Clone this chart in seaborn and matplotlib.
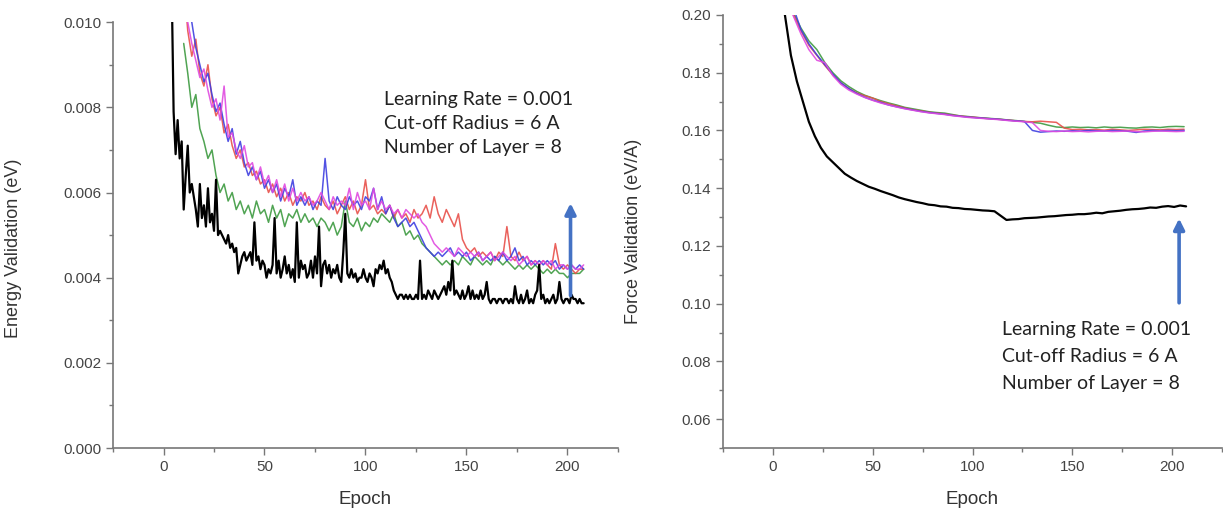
import numpy as np
import pandas as pd
import matplotlib
matplotlib.use("Agg")
import matplotlib.pyplot as plt
from matplotlib.ticker import MultipleLocator, FormatStrFormatter
import seaborn as sns

# --- energy validation (left panel) ---
black_e_epoch = np.arange(4, 209)
black_energy = [
    0.0110, 0.0079, 0.0069, 0.0077, 0.0068, 0.0072, 0.0056, 0.0064, 0.0071, 0.0060,
    0.0062, 0.0059, 0.0056, 0.0052, 0.0062, 0.0054, 0.0057, 0.0052, 0.0061, 0.0053,
    0.0055, 0.0051, 0.0063, 0.0050, 0.0051, 0.0050, 0.0049, 0.0048, 0.0050, 0.0047,
    0.0048, 0.0046, 0.0047, 0.0041, 0.0043, 0.0045, 0.0046, 0.0044, 0.0045, 0.0046,
    0.0043, 0.0053, 0.0044, 0.0045, 0.0042, 0.0044, 0.0043, 0.0040, 0.0042, 0.0041,
    0.0043, 0.0054, 0.0041, 0.0044, 0.0040, 0.0042, 0.0045, 0.0041, 0.0043, 0.0040,
    0.0042, 0.0039, 0.0053, 0.0040, 0.0044, 0.0042, 0.0043, 0.0040, 0.0041, 0.0044,
    0.0040, 0.0045, 0.0041, 0.0052, 0.0038, 0.0043, 0.0044, 0.0041, 0.0043, 0.0040,
    0.0042, 0.0041, 0.0043, 0.0040, 0.0039, 0.0046, 0.0055, 0.0041, 0.0040, 0.0042,
    0.0040, 0.0041, 0.0039, 0.0040, 0.0040, 0.0042, 0.0040, 0.0039, 0.0041, 0.0040,
    0.0038, 0.0042, 0.0041, 0.0043, 0.0042, 0.0044, 0.0041, 0.0042, 0.0040, 0.0039,
    0.0037, 0.0036, 0.0035, 0.0036, 0.0036, 0.0035, 0.0036, 0.0035, 0.0036, 0.0035,
    0.0035, 0.0036, 0.0035, 0.0044, 0.0035, 0.0036, 0.0035, 0.0037, 0.0036, 0.0035,
    0.0037, 0.0036, 0.0035, 0.0036, 0.0037, 0.0038, 0.0036, 0.0039, 0.0037, 0.0044,
    0.0036, 0.0037, 0.0036, 0.0035, 0.0037, 0.0035, 0.0036, 0.0038, 0.0035, 0.0037,
    0.0035, 0.0036, 0.0035, 0.0037, 0.0035, 0.0036, 0.0039, 0.0035, 0.0034, 0.0035,
    0.0035, 0.0034, 0.0035, 0.0035, 0.0034, 0.0035, 0.0035, 0.0034, 0.0035, 0.0034,
    0.0038, 0.0035, 0.0034, 0.0036, 0.0034, 0.0035, 0.0037, 0.0034, 0.0035, 0.0034,
    0.0036, 0.0037, 0.0043, 0.0035, 0.0036, 0.0034, 0.0035, 0.0034, 0.0035, 0.0036,
    0.0034, 0.0035, 0.0039, 0.0035, 0.0034, 0.0035, 0.0035, 0.0034, 0.0036, 0.0035,
    0.0035, 0.0034, 0.0035, 0.0034, 0.0034,
]

color_e_epoch = np.arange(10, 209, 2)
red_energy = [
    0.0110, 0.0098, 0.0092, 0.0096, 0.0088, 0.0085, 0.0090, 0.0082, 0.0078, 0.0080,
    0.0074, 0.0076, 0.0071, 0.0068, 0.0070, 0.0066, 0.0067, 0.0064, 0.0065, 0.0062,
    0.0063, 0.0060, 0.0062, 0.0059, 0.0061, 0.0058, 0.0060, 0.0057, 0.0059, 0.0058,
    0.0060, 0.0057, 0.0058, 0.0056, 0.0059, 0.0057, 0.0056, 0.0058, 0.0055, 0.0057,
    0.0059, 0.0056, 0.0058, 0.0055, 0.0057, 0.0063, 0.0056, 0.0057, 0.0055, 0.0056,
    0.0055, 0.0057, 0.0054, 0.0056, 0.0054, 0.0055, 0.0053, 0.0056, 0.0054, 0.0055,
    0.0057, 0.0054, 0.0059, 0.0055, 0.0053, 0.0056, 0.0054, 0.0052, 0.0055, 0.0049,
    0.0047, 0.0046, 0.0047, 0.0045, 0.0046, 0.0045, 0.0046, 0.0044, 0.0046, 0.0045,
    0.0052, 0.0045, 0.0044, 0.0046, 0.0044, 0.0045, 0.0043, 0.0044, 0.0043, 0.0044,
    0.0043, 0.0042, 0.0048, 0.0043, 0.0042, 0.0043, 0.0042, 0.0041, 0.0042, 0.0042,
]
magenta_energy = [
    0.0112, 0.0100, 0.0095, 0.0091, 0.0087, 0.0089, 0.0084, 0.0080, 0.0082, 0.0077,
    0.0085, 0.0073, 0.0074, 0.0070, 0.0068, 0.0071, 0.0066, 0.0067, 0.0063, 0.0066,
    0.0062, 0.0064, 0.0060, 0.0063, 0.0059, 0.0062, 0.0058, 0.0061, 0.0058, 0.0060,
    0.0058, 0.0059, 0.0057, 0.0058, 0.0060, 0.0058, 0.0056, 0.0059, 0.0057, 0.0058,
    0.0057, 0.0061, 0.0056, 0.0060, 0.0057, 0.0058, 0.0056, 0.0061, 0.0056, 0.0058,
    0.0056, 0.0057, 0.0055, 0.0056, 0.0054, 0.0056, 0.0055, 0.0054, 0.0055, 0.0053,
    0.0052, 0.0050, 0.0048, 0.0047, 0.0046, 0.0047, 0.0046, 0.0045, 0.0047, 0.0046,
    0.0045, 0.0046, 0.0045, 0.0046, 0.0044, 0.0045, 0.0046, 0.0044, 0.0045, 0.0046,
    0.0045, 0.0044, 0.0045, 0.0043, 0.0044, 0.0045, 0.0043, 0.0044, 0.0043, 0.0044,
    0.0043, 0.0044, 0.0042, 0.0043, 0.0043, 0.0042, 0.0043, 0.0042, 0.0042, 0.0043,
]
blue_energy = [
    0.0115, 0.0108, 0.0100, 0.0094, 0.0090, 0.0086, 0.0088, 0.0083, 0.0079, 0.0081,
    0.0076, 0.0072, 0.0075, 0.0069, 0.0072, 0.0067, 0.0064, 0.0066, 0.0063, 0.0065,
    0.0061, 0.0063, 0.0060, 0.0062, 0.0058, 0.0061, 0.0059, 0.0063, 0.0057, 0.0059,
    0.0057, 0.0059, 0.0056, 0.0058, 0.0057, 0.0068, 0.0058, 0.0056, 0.0059, 0.0057,
    0.0056, 0.0059, 0.0057, 0.0058, 0.0056, 0.0059, 0.0058, 0.0061, 0.0056, 0.0059,
    0.0055, 0.0057, 0.0054, 0.0052, 0.0053, 0.0054, 0.0052, 0.0053, 0.0051, 0.0049,
    0.0047, 0.0046, 0.0045, 0.0046, 0.0045, 0.0046, 0.0047, 0.0045, 0.0046, 0.0045,
    0.0046, 0.0044, 0.0045, 0.0046, 0.0044, 0.0045, 0.0044, 0.0045, 0.0044, 0.0046,
    0.0044, 0.0045, 0.0047, 0.0044, 0.0045, 0.0043, 0.0044, 0.0043, 0.0044, 0.0043,
    0.0044, 0.0043, 0.0044, 0.0042, 0.0043, 0.0042, 0.0043, 0.0042, 0.0043, 0.0042,
]
green_energy = [
    0.0095, 0.0088, 0.0080, 0.0083, 0.0075, 0.0072, 0.0068, 0.0070, 0.0064, 0.0060,
    0.0062, 0.0058, 0.0060, 0.0056, 0.0058, 0.0055, 0.0057, 0.0054, 0.0058, 0.0055,
    0.0056, 0.0053, 0.0057, 0.0054, 0.0056, 0.0052, 0.0055, 0.0054, 0.0056, 0.0053,
    0.0055, 0.0053, 0.0054, 0.0052, 0.0054, 0.0053, 0.0051, 0.0053, 0.0050, 0.0052,
    0.0058, 0.0053, 0.0052, 0.0054, 0.0051, 0.0053, 0.0052, 0.0054, 0.0053, 0.0055,
    0.0054, 0.0053, 0.0055, 0.0052, 0.0053, 0.0050, 0.0051, 0.0049, 0.0050, 0.0048,
    0.0047, 0.0046, 0.0045, 0.0044, 0.0043, 0.0044, 0.0043, 0.0044, 0.0043, 0.0045,
    0.0044, 0.0043, 0.0045, 0.0044, 0.0043, 0.0044, 0.0043, 0.0045, 0.0044, 0.0043,
    0.0044, 0.0043, 0.0042, 0.0043, 0.0042, 0.0043, 0.0042, 0.0043, 0.0042, 0.0041,
    0.0042, 0.0041, 0.0042, 0.0041, 0.0041, 0.0040, 0.0041, 0.0041, 0.0041, 0.0042,
]

# --- force validation (right panel) ---
black_f_epoch = np.arange(6, 208, 3)
black_force = [
    0.2000, 0.1860, 0.1770, 0.1700, 0.1630, 0.1580, 0.1540, 0.1510, 0.1490, 0.1470,
    0.1450, 0.1437, 0.1425, 0.1415, 0.1405, 0.1398, 0.1390, 0.1383, 0.1376, 0.1368,
    0.1362, 0.1357, 0.1352, 0.1348, 0.1343, 0.1341, 0.1337, 0.1336, 0.1332, 0.1331,
    0.1328, 0.1327, 0.1325, 0.1323, 0.1322, 0.1320, 0.1305, 0.1290, 0.1292, 0.1293,
    0.1296, 0.1297, 0.1298, 0.1300, 0.1302, 0.1303, 0.1305, 0.1307, 0.1308, 0.1310,
    0.1310, 0.1312, 0.1315, 0.1313, 0.1318, 0.1320, 0.1322, 0.1325, 0.1327, 0.1328,
    0.1330, 0.1333, 0.1332, 0.1336, 0.1338, 0.1335, 0.1340, 0.1337,
]

color_f_epoch = np.arange(10, 207, 4)
green_force = [
    0.2010, 0.1955, 0.1910, 0.1880, 0.1835, 0.1800, 0.1772, 0.1752, 0.1735, 0.1722,
    0.1712, 0.1703, 0.1695, 0.1688, 0.1680, 0.1675, 0.1670, 0.1665, 0.1662, 0.1660,
    0.1655, 0.1650, 0.1648, 0.1645, 0.1643, 0.1641, 0.1639, 0.1636, 0.1634, 0.1631,
    0.1628, 0.1625, 0.1618, 0.1612, 0.1610, 0.1612, 0.1610, 0.1611, 0.1609, 0.1612,
    0.1610, 0.1611, 0.1609, 0.1608, 0.1611, 0.1612, 0.1610, 0.1613, 0.1614, 0.1613,
]
red_force = [
    0.2005, 0.1945, 0.1895, 0.1860, 0.1825, 0.1792, 0.1765, 0.1745, 0.1730, 0.1720,
    0.1712, 0.1700, 0.1692, 0.1685, 0.1678, 0.1672, 0.1668, 0.1663, 0.1660, 0.1657,
    0.1653, 0.1650, 0.1647, 0.1645, 0.1642, 0.1640, 0.1638, 0.1636, 0.1633, 0.1631,
    0.1630, 0.1632, 0.1630, 0.1628, 0.1608, 0.1603, 0.1604, 0.1602, 0.1603, 0.1601,
    0.1604, 0.1602, 0.1600, 0.1602, 0.1604, 0.1603, 0.1602, 0.1604, 0.1603, 0.1604,
]
blue_force = [
    0.2030, 0.1950, 0.1900, 0.1862, 0.1828, 0.1795, 0.1765, 0.1745, 0.1728, 0.1715,
    0.1705, 0.1697, 0.1688, 0.1682, 0.1676, 0.1671, 0.1666, 0.1662, 0.1659, 0.1656,
    0.1652, 0.1649, 0.1646, 0.1644, 0.1642, 0.1640, 0.1638, 0.1635, 0.1633, 0.1631,
    0.1600, 0.1594, 0.1596, 0.1598, 0.1597, 0.1599, 0.1598, 0.1600, 0.1599, 0.1598,
    0.1600, 0.1599, 0.1597, 0.1593, 0.1598, 0.1600, 0.1599, 0.1600, 0.1599, 0.1600,
]
magenta_force = [
    0.2000, 0.1935, 0.1880, 0.1843, 0.1835, 0.1790, 0.1760, 0.1740, 0.1726, 0.1714,
    0.1704, 0.1695, 0.1688, 0.1681, 0.1675, 0.1670, 0.1665, 0.1661, 0.1658, 0.1655,
    0.1651, 0.1648, 0.1645, 0.1643, 0.1641, 0.1639, 0.1637, 0.1634, 0.1632, 0.1630,
    0.1627, 0.1600, 0.1597, 0.1596, 0.1598, 0.1596, 0.1597, 0.1595, 0.1597, 0.1598,
    0.1596, 0.1597, 0.1598, 0.1596, 0.1595, 0.1597, 0.1598, 0.1597, 0.1596, 0.1597,
]

info_lines = ["Learning Rate = 0.001", "Cut-off Radius = 6 A", "Number of Layer = 8"]

c_red, c_green, c_blue, c_mag = "#e8504a", "#3d9a40", "#3f3fe0", "#e04ae0"

sns.set_style("ticks")
plt.rcParams['font.family'] = ['Liberation Sans', 'DejaVu Sans']

fig = plt.figure(figsize=(12.23, 5.15), dpi=100)
ax1 = fig.add_axes([0.0924, 0.130, 0.4129, 0.827])
ax2 = fig.add_axes([0.5912, 0.130, 0.408, 0.841])

# left: energy
for vals, col in [(green_energy, c_green), (red_energy, c_red),
                  (blue_energy, c_blue), (magenta_energy, c_mag)]:
    sns.lineplot(x=color_e_epoch, y=vals, color=col, lw=1.1, alpha=0.9, ax=ax1)
sns.lineplot(x=black_e_epoch, y=black_energy, color="black", lw=1.6, ax=ax1)

ax1.set_xlim(-25, 225)
ax1.set_ylim(0, 0.010)
ax1.yaxis.set_major_locator(MultipleLocator(0.002))
ax1.yaxis.set_minor_locator(MultipleLocator(0.001))
ax1.yaxis.set_major_formatter(FormatStrFormatter('%.3f'))
ax1.set_ylabel("Energy Validation (eV)")
ax1.yaxis.set_label_coords(-0.18, 0.47)

ax1.text(109, 0.00838, "\n".join(info_lines), family=['Lato', 'DejaVu Sans'],
         fontsize=14, color="#222222", va='top', linespacing=1.5)
ax1.annotate('', xy=(201.5, 0.00575), xytext=(201.5, 0.00358),
             arrowprops=dict(arrowstyle='-|>', color='#4472c4', lw=2.6,
                             mutation_scale=16, shrinkA=0, shrinkB=0))

# right: force
for vals, col in [(green_force, c_green), (red_force, c_red),
                  (blue_force, c_blue), (magenta_force, c_mag)]:
    sns.lineplot(x=color_f_epoch, y=vals, color=col, lw=1.1, alpha=0.9, ax=ax2)
sns.lineplot(x=black_f_epoch, y=black_force, color="black", lw=1.6, ax=ax2)

ax2.set_xlim(-25, 225)
ax2.set_ylim(0.05, 0.20)
ax2.set_yticks(np.arange(0.06, 0.201, 0.02))
ax2.yaxis.set_minor_locator(MultipleLocator(0.01))
ax2.yaxis.set_major_formatter(FormatStrFormatter('%.2f'))
ax2.set_ylabel("Force Validation (eV/A)")
ax2.yaxis.set_label_coords(-0.162, 0.50)

ax2.text(115, 0.0940, "\n".join(info_lines), family=['Lato', 'DejaVu Sans'],
         fontsize=14, color="#222222", va='top', linespacing=1.7)
ax2.annotate('', xy=(203.5, 0.1295), xytext=(203.5, 0.1003),
             arrowprops=dict(arrowstyle='-|>', color='#4472c4', lw=2.6,
                             mutation_scale=16, shrinkA=0, shrinkB=0))

for ax in (ax1, ax2):
    sns.despine(ax=ax)
    ax.xaxis.set_major_locator(MultipleLocator(50))
    ax.xaxis.set_minor_locator(MultipleLocator(25))
    ax.set_xlabel("Epoch", fontsize=13.5, color="#333333")
    ax.xaxis.set_label_coords(0.5, -0.10)
    ax.yaxis.label.set_fontsize(13)
    ax.yaxis.label.set_color("#333333")
    for side in ("left", "bottom"):
        ax.spines[side].set_color("#777777")
        ax.spines[side].set_linewidth(1.2)
    ax.tick_params(which='major', direction='out', length=5, width=1,
                   color="#777777", labelsize=11, labelcolor="#444444")
    ax.tick_params(which='minor', direction='out', length=3, width=1,
                   color="#777777")

fig.savefig("out.png", dpi=100)
